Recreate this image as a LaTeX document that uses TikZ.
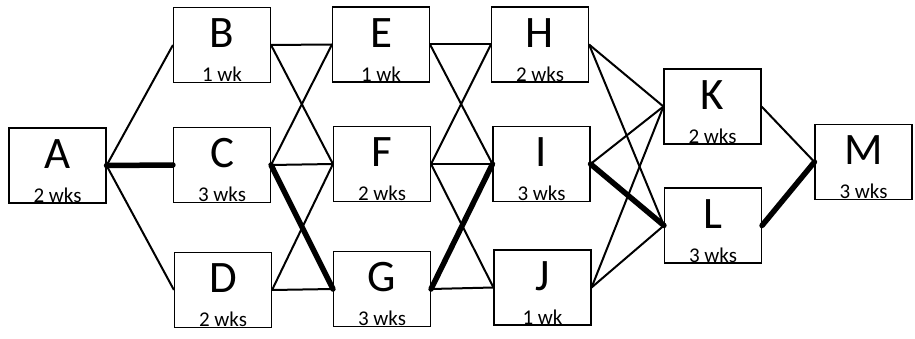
\documentclass[tikz,border=0pt]{standalone}
\usepackage{fontspec}
\setmainfont{Carlito}
\newcommand\jobbox[4]{% name (also the printed letter), x, y, duration
  \node[task] (#1) at (#2,#3) {};
  \node[letter] (#1-n) at ([yshift=-41pt]#1.north) {#1};
  \node[dur] (#1-d) at ([yshift=1.2pt]#1.south) {#4};
}
\begin{document}
\begin{tikzpicture}[x=1pt,y=-1pt,
  task/.style={draw, line width=1.1pt, minimum width=97pt, minimum height=75pt, inner sep=0pt},
  letter/.style={anchor=base, font=\fontsize{45}{45}\selectfont, inner sep=0pt},
  dur/.style={anchor=base, font=\fontsize{21}{21}\selectfont, inner sep=0pt},
  link/.style={line width=2pt},
  crit/.style={line width=5.5pt, line cap=round}]
\useasboundingbox (0,0) rectangle (915,339);

% activities
\jobbox{A}{57.5}{165.5}{2 wks}
\jobbox{B}{222}{45}{1 wk}
\jobbox{C}{222}{165}{3 wks}
\jobbox{D}{223}{290}{2 wks}
\jobbox{E}{381}{44.5}{1 wk}
\jobbox{F}{382}{164}{2 wks}
\jobbox{G}{382}{289}{3 wks}
\jobbox{H}{540}{44.5}{2 wks}
\jobbox{I}{541.5}{164}{3 wks}
\jobbox{J}{542.5}{287.5}{1 wk}
\jobbox{K}{712.5}{106.5}{2 wks}
\jobbox{L}{713}{225.5}{3 wks}
\jobbox{M}{863.5}{162}{3 wks}

% precedence links
\draw[link] (A.east) -- (B.west);
\draw[link] (A.east) -- (D.west);
\draw[link] (B.east) -- (E.west);
\draw[link] (B.east) -- (F.west);
\draw[link] (C.east) -- (E.west);
\draw[link] (C.east) -- (F.west);
\draw[link] (D.east) -- (F.west);
\draw[link] (D.east) -- (G.west);
\draw[link] (E.east) -- (H.west);
\draw[link] (E.east) -- (I.west);
\draw[link] (F.east) -- (H.west);
\draw[link] (F.east) -- (I.west);
\draw[link] (F.east) -- (J.west);
\draw[link] (G.east) -- (J.west);
\draw[link] (H.east) -- (K.west);
\draw[link] (H.east) -- (L.west);
\draw[link] (I.east) -- (K.west);
\draw[link] (J.east) -- (K.west);
\draw[link] (J.east) -- (L.west);
\draw[link] (K.east) -- (M.west);

% critical path
\draw[crit] (A.east) -- (C.west);
\draw[crit] (C.east) -- (G.west);
\draw[crit] (G.east) -- (I.west);
\draw[crit] (I.east) -- (L.west);
\draw[crit] (L.east) -- (M.west);
\end{tikzpicture}
\end{document}
